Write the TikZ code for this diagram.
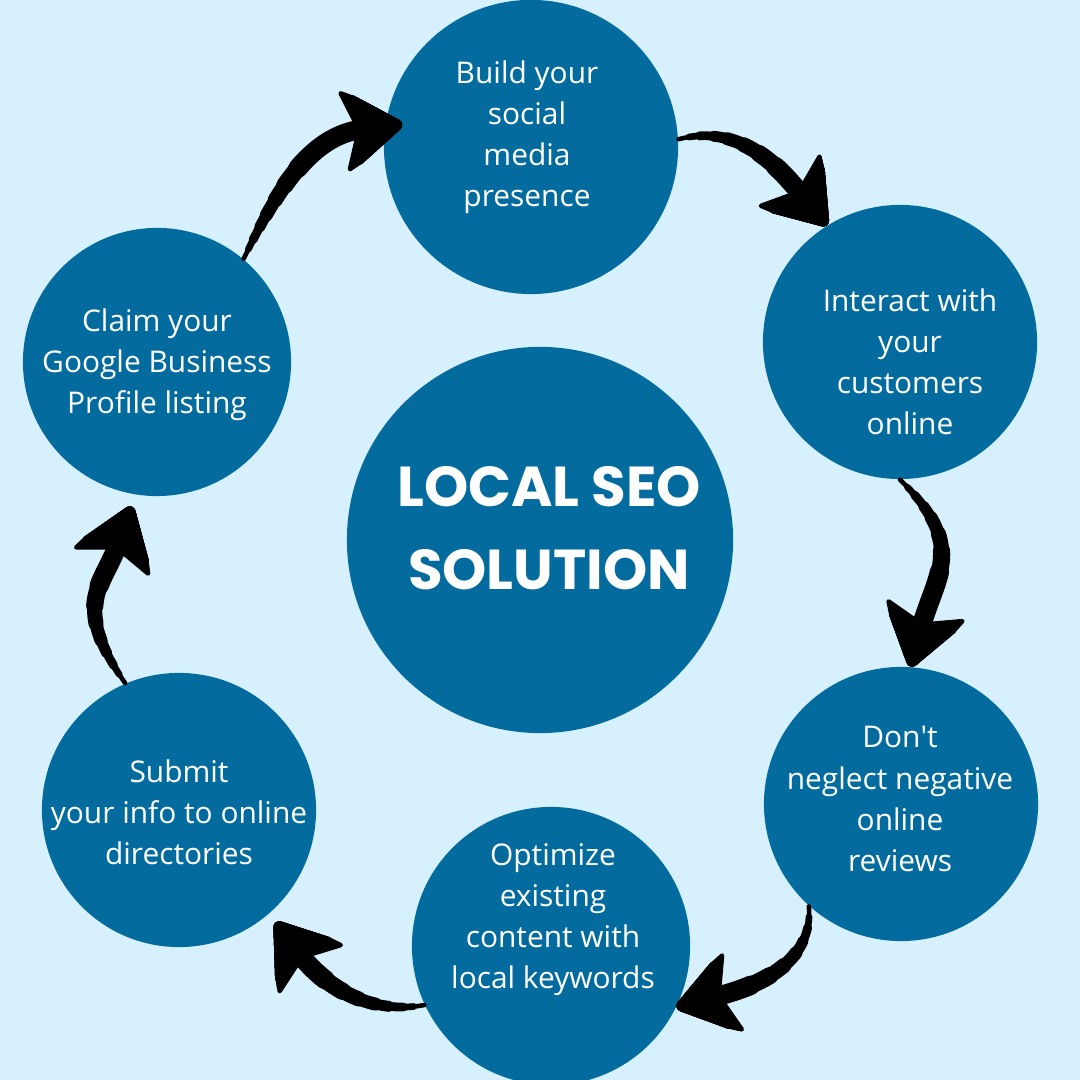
\documentclass[tikz,border=0pt]{standalone}
\usepackage{fontspec}
\setmainfont{Open Sans}
\newfontfamily\titlefont{Poppins}
\usetikzlibrary{arrows.meta}

\definecolor{skyback}{RGB}{214,241,253}
\definecolor{seoblue}{RGB}{4,107,159}

\tikzset{
  disc/.style={circle, fill=seoblue, inner sep=0pt},
  blurb/.style={text=white, align=center, inner sep=0pt,
    font=\fontsize{8.5}{11.67}\selectfont},
  headline/.style={text=white, align=center, inner sep=0pt,
    font=\titlefont\bfseries\fontsize{16}{23.6}\selectfont},
  flow/.style={line cap=round,
    -{Stealth[length=18pt, width=25pt, inset=4.5pt, round]}},
}

% tapered brush arrow: [extra] start, to-options, end
\newcommand{\brush}[4][]{%
  \foreach \lw/\sh in {1.3/0.01,1.9/3,2.5/6,3.1/10,3.7/14,4.3/19,4.9/24,5.5/30}
    \draw[flow, line width=\lw pt, dash pattern=on 1000pt off \sh pt,
      dash phase=1000pt, #1] (#2) to[#3] (#4);}

\begin{document}
\begin{tikzpicture}[x=0.01cm, y=0.01cm]
\fill[skyback] (0,0) rectangle (1080,1080);
\useasboundingbox (0,0) rectangle (1080,1080);

\node[disc, minimum size=3.86cm] (hub) at (540,540) {};
\node[disc, minimum size=2.94cm] (build) at (531,933) {};
\node[disc, minimum size=2.74cm] (interact) at (900,738) {};
\node[disc, minimum size=2.74cm] (neglect) at (901,276) {};
\node[disc, minimum size=2.78cm] (optimize) at (551,134) {};
\node[disc, minimum size=2.74cm] (submit) at (179,270) {};
\node[disc, minimum size=2.68cm] (claim) at (157,718) {};

\node[headline] at (549,552) {LOCAL SEO\\SOLUTION};
\node[blurb] at (527,943) {Build your\\social\\media\\presence};
\node[blurb] at (910,718) {Interact with\\your\\customers\\online};
\node[blurb] at (900,281) {Don\textquotesingle t\\neglect negative\\online\\reviews};
\node[blurb] at (553,160) {Optimize\\existing\\content with\\local keywords};
\node[blurb] at (179,268) {Submit\\your info to online\\directories};
\node[blurb] at (157,715) {Claim your\\Google Business\\Profile listing};

% arrows round the cycle
\brush[shorten >=-5pt]{claim.50}{out=64,in=187}{build.172}
\brush{build.3}{out=15,in=130}{interact.122}
\brush{interact.-90}{out=-44,in=75,looseness=1.3}{neglect.86}
\brush{neglect.228}{out=-85,in=15}{optimize.-26}
\brush[shorten >=3pt]{optimize.205}{out=190,in=-53}{submit.-49}
\brush[shorten >=3.5pt]{submit.113}{out=125,in=250,looseness=1.3}{claim.261}
\end{tikzpicture}
\end{document}
